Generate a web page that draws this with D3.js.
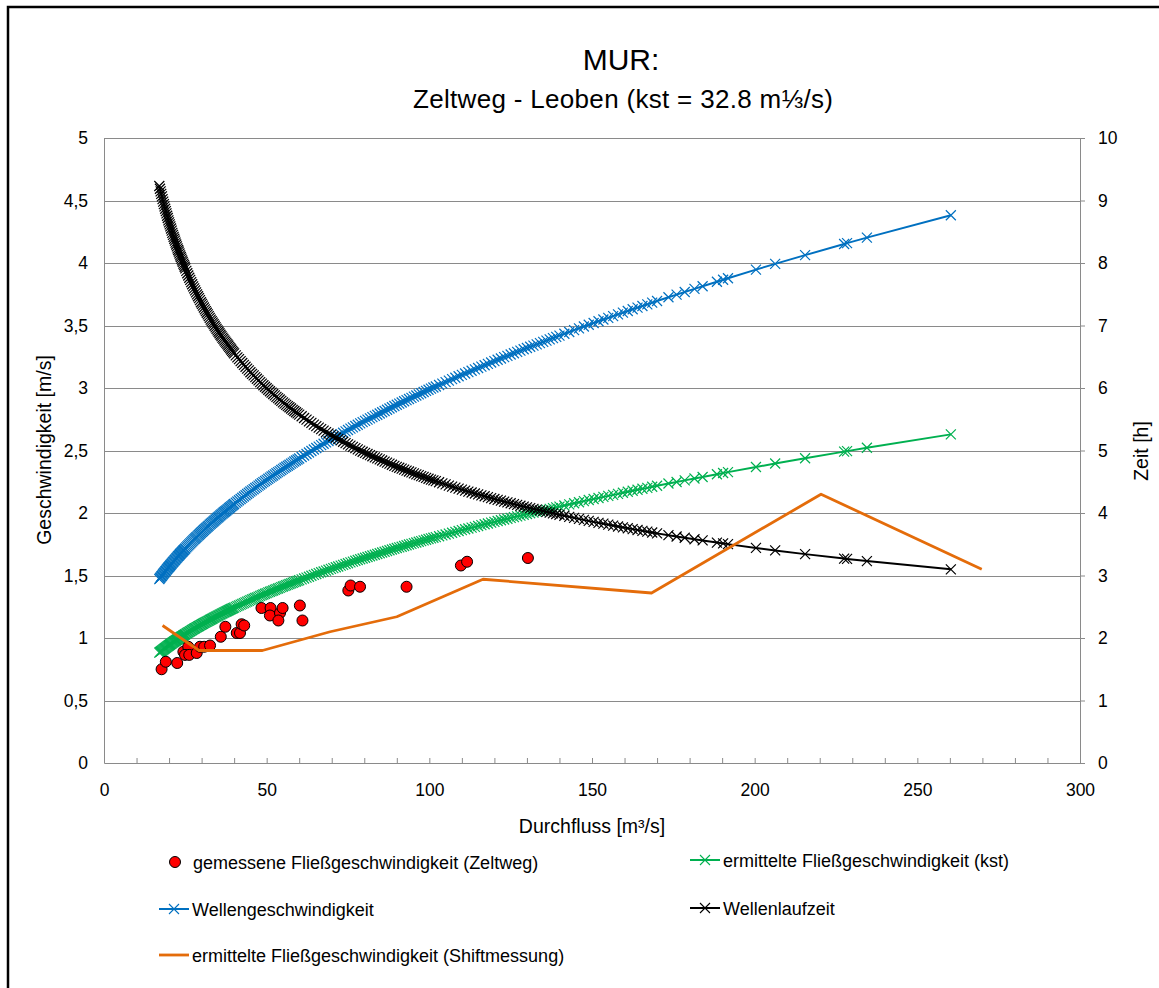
<!DOCTYPE html>
<html>
<head>
<meta charset="utf-8">
<script src="https://cdn.jsdelivr.net/npm/d3@7"></script>
<style>
  html, body { margin: 0; padding: 0; background: #fff; }
  svg { display: block; font-family: "Liberation Sans", Arial, sans-serif; }
</style>
</head>
<body>
<svg id="chart" width="1159" height="988"></svg>
<script>
// Discharge steps used for the computed series [m³/s]
const discharge = [
  17.0,17.2,17.4,17.6,17.8,18.0,18.2,18.4,18.6,18.8,19.0,19.2,19.4,19.6,19.8,20.0,20.2,20.4,20.6,20.8,21.0,21.2,21.4,21.6,21.8,22.0,22.2,22.4,22.6,22.8,23.0,23.2,23.4,23.6,23.8,24.0,24.2,24.4,24.6,24.8,25.0,
  25.3,25.6,25.9,26.2,26.5,26.8,27.1,27.4,27.7,28.0,28.3,28.6,28.9,29.2,29.5,29.8,30.1,30.4,30.7,31.0,31.3,31.6,31.9,32.2,32.5,32.8,33.1,33.4,33.7,34.0,34.3,34.6,34.9,35.2,35.5,35.8,36.1,36.4,36.7,37.0,37.3,37.6,37.9,38.2,38.5,38.8,39.1,39.4,39.7,40.0,
  40.5,41,41.5,42,42.5,43,43.5,44,44.5,45,45.5,46,46.5,47,47.5,48,48.5,49,49.5,50,50.5,51,51.5,52,52.5,53,53.5,54,54.5,55,55.5,56,56.5,57,57.5,58,58.5,59,59.5,60,
  60.75,61.5,62.25,63,63.75,64.5,65.25,66,66.75,67.5,68.25,69,69.75,70.5,71.25,72,72.75,73.5,74.25,75,75.75,76.5,77.25,78,78.75,79.5,80.25,81,81.75,82.5,83.25,84,84.75,85.5,86.25,87,87.75,88.5,89.25,90,90.75,91.5,92.25,93,93.75,94.5,95.25,96,96.75,97.5,98.25,99,99.75,100.5,
  101.25,102,103,104,105,106,107,108,109,110,111,112,113,114,115,116,117,118,119,120,121,122,123,124,125,126,127,128,129,130,131,132,133,134,135,136,137,138,139,140,
  141.5,143,144.5,146,147.5,149,150.5,152,153.5,155,156.5,158,159.5,161,162.5,164,165.5,167,168.5,170,
  173.5,176,178.5,181.5,184,188.4,190.3,191.8,200.4,206.3,215.5,227.5,228.4,234.5,260.3
];

// Wellengeschwindigkeit [m/s]
const waveSpeed = [
  1.471,1.478,1.485,1.492,1.498,1.505,1.512,1.519,1.525,1.532,1.538,1.545,1.551,1.558,1.564,1.570,1.576,1.582,1.588,1.595,1.601,1.607,1.613,1.619,1.625,1.631,1.637,1.643,1.649,1.655,1.660,1.666,1.672,1.678,1.683,1.689,1.694,1.700,1.705,1.711,1.716,
  1.725,1.733,1.741,1.749,1.757,1.765,1.773,1.781,1.789,1.796,1.804,1.811,1.819,1.826,1.834,1.842,1.849,1.856,1.864,1.871,1.878,1.885,1.892,1.899,1.907,1.914,1.921,1.927,1.934,1.941,1.948,1.955,1.962,1.968,1.975,1.982,1.989,1.995,2.002,2.008,2.014,2.020,2.027,2.033,2.040,2.046,2.053,2.059,2.066,2.072,
  2.082,2.092,2.102,2.112,2.122,2.132,2.142,2.152,2.162,2.172,2.181,2.190,2.200,2.209,2.219,2.228,2.238,2.247,2.256,2.265,2.274,2.283,2.292,2.300,2.309,2.318,2.327,2.335,2.344,2.353,2.362,2.370,2.378,2.386,2.395,2.403,2.412,2.420,2.428,2.436,
  2.448,2.460,2.472,2.484,2.496,2.508,2.520,2.531,2.543,2.554,2.565,2.576,2.588,2.599,2.610,2.620,2.631,2.642,2.653,2.664,2.675,2.685,2.696,2.706,2.717,2.727,2.737,2.747,2.757,2.767,2.777,2.786,2.796,2.806,2.816,2.826,2.836,2.846,2.856,2.866,2.875,2.884,2.894,2.903,2.912,2.921,2.931,2.940,2.949,2.958,2.968,2.977,2.986,2.995,
  3.004,3.012,3.024,3.035,3.047,3.059,3.071,3.082,3.094,3.105,3.116,3.127,3.138,3.149,3.160,3.171,3.182,3.193,3.204,3.215,3.226,3.236,3.247,3.257,3.268,3.278,3.289,3.299,3.310,3.320,3.330,3.339,3.349,3.359,3.369,3.379,3.389,3.399,3.409,3.419,
  3.434,3.448,3.463,3.477,3.492,3.506,3.520,3.534,3.548,3.561,3.575,3.589,3.603,3.616,3.630,3.643,3.656,3.669,3.683,3.696,
  3.726,3.747,3.768,3.793,3.814,3.850,3.866,3.878,3.947,3.993,4.063,4.152,4.159,4.203,4.382
];

// ermittelte Fließgeschwindigkeit (kst) [m/s]
const flowSpeedKst = [
  0.883,0.887,0.891,0.895,0.899,0.903,0.907,0.911,0.915,0.919,0.923,0.927,0.931,0.935,0.938,0.942,0.946,0.950,0.953,0.957,0.961,0.965,0.968,0.972,0.975,0.979,0.982,0.986,0.989,0.993,0.996,1.000,1.003,1.007,1.010,1.013,1.016,1.020,1.023,1.027,1.030,
  1.035,1.040,1.045,1.049,1.054,1.059,1.064,1.069,1.074,1.078,1.083,1.087,1.092,1.096,1.101,1.105,1.110,1.114,1.119,1.123,1.127,1.131,1.135,1.139,1.144,1.148,1.152,1.156,1.161,1.165,1.169,1.173,1.177,1.181,1.185,1.189,1.193,1.197,1.201,1.205,1.209,1.212,1.216,1.220,1.224,1.228,1.232,1.235,1.239,1.243,
  1.249,1.255,1.261,1.267,1.273,1.279,1.285,1.291,1.297,1.303,1.309,1.314,1.320,1.325,1.331,1.337,1.343,1.348,1.354,1.359,1.365,1.370,1.375,1.380,1.386,1.391,1.396,1.401,1.407,1.412,1.417,1.422,1.427,1.432,1.437,1.442,1.447,1.452,1.457,1.462,
  1.469,1.476,1.483,1.490,1.498,1.505,1.512,1.519,1.526,1.532,1.539,1.546,1.553,1.559,1.566,1.572,1.579,1.585,1.592,1.598,1.605,1.611,1.618,1.624,1.630,1.636,1.642,1.648,1.654,1.660,1.666,1.672,1.678,1.684,1.690,1.696,1.702,1.708,1.714,1.720,1.725,1.730,1.736,1.742,1.748,1.753,1.759,1.764,1.770,1.775,1.781,1.786,1.792,1.797,
  1.802,1.807,1.814,1.821,1.828,1.835,1.842,1.849,1.856,1.863,1.870,1.876,1.883,1.889,1.896,1.903,1.910,1.916,1.923,1.929,1.936,1.942,1.948,1.954,1.961,1.967,1.973,1.979,1.986,1.992,1.998,2.003,2.009,2.015,2.021,2.027,2.033,2.039,2.045,2.051,
  2.060,2.069,2.078,2.086,2.095,2.104,2.112,2.120,2.129,2.137,2.145,2.153,2.162,2.170,2.178,2.186,2.194,2.201,2.210,2.218,
  2.236,2.248,2.261,2.276,2.288,2.310,2.320,2.327,2.368,2.396,2.438,2.491,2.495,2.522,2.629
];

// Wellenlaufzeit [h] (secondary axis)
const travelTime = [
  9.232,9.188,9.145,9.105,9.065,9.023,8.981,8.943,8.905,8.868,8.830,8.793,8.756,8.720,8.683,8.650,8.617,8.585,8.552,8.517,8.482,8.451,8.419,8.388,8.357,8.327,8.296,8.266,8.235,8.208,8.181,8.152,8.122,8.096,8.069,8.043,8.017,7.991,7.965,7.940,7.914,
  7.875,7.836,7.800,7.764,7.729,7.694,7.660,7.625,7.593,7.561,7.530,7.499,7.468,7.437,7.405,7.372,7.345,7.317,7.288,7.258,7.231,7.204,7.178,7.151,7.123,7.095,7.071,7.047,7.022,6.996,6.971,6.946,6.923,6.900,6.876,6.852,6.830,6.807,6.785,6.763,6.743,6.723,6.702,6.680,6.659,6.637,6.616,6.595,6.575,6.554,
  6.523,6.491,6.461,6.430,6.400,6.370,6.340,6.310,6.281,6.252,6.227,6.201,6.175,6.148,6.122,6.095,6.070,6.044,6.020,5.996,5.972,5.948,5.926,5.904,5.881,5.858,5.837,5.816,5.794,5.771,5.751,5.730,5.711,5.692,5.672,5.651,5.632,5.612,5.594,5.575,
  5.548,5.520,5.494,5.467,5.441,5.415,5.390,5.365,5.341,5.317,5.295,5.272,5.249,5.225,5.204,5.183,5.162,5.140,5.119,5.098,5.078,5.058,5.038,5.018,4.999,4.980,4.962,4.944,4.926,4.908,4.891,4.874,4.857,4.840,4.823,4.805,4.789,4.772,4.755,4.738,4.724,4.709,4.694,4.678,4.664,4.649,4.634,4.619,4.605,4.591,4.577,4.562,4.548,4.534,
  4.522,4.509,4.492,4.474,4.457,4.439,4.423,4.406,4.390,4.374,4.359,4.343,4.328,4.312,4.298,4.283,4.268,4.253,4.239,4.224,4.211,4.197,4.183,4.169,4.156,4.143,4.130,4.116,4.103,4.090,4.079,4.067,4.055,4.043,4.031,4.019,4.007,3.995,3.984,3.972,
  3.956,3.939,3.923,3.906,3.890,3.873,3.858,3.843,3.829,3.814,3.799,3.784,3.770,3.756,3.742,3.728,3.715,3.701,3.688,3.674,
  3.645,3.624,3.604,3.580,3.561,3.527,3.513,3.502,3.441,3.401,3.342,3.271,3.265,3.231,3.099
];

// gemessene Fließgeschwindigkeit (Zeltweg)
const measuredQ = [17.7,19.0,22.5,24.4,25.9,24.9,26.2,28.5,29.5,30.8,32.6,35.9,37.3,40.8,41.8,42.3,43.1,
  48.4,51.2,51.0,54.1,54.9,53.6,60.2,61.0,75.1,75.8,78.7,93.0,109.7,111.6,130.3];
const measuredV = [0.75,0.81,0.80,0.89,0.93,0.865,0.865,0.88,0.93,0.93,0.94,1.01,1.09,1.04,1.04,1.11,1.10,
  1.24,1.24,1.18,1.20,1.24,1.14,1.26,1.14,1.38,1.42,1.41,1.41,1.58,1.61,1.64];

// ermittelte Fließgeschwindigkeit (Shiftmessung)
const shiftQ = [18.0,29.2,48.7,69.5,90.0,116.5,168.3,220.4,269.8];
const shiftV = [1.10,0.90,0.90,1.05,1.17,1.47,1.36,2.15,1.55];

// Axis ticks
const xTicks = [0,50,100,150,200,250,300];
const xMinorTicks = d3.range(0, 301, 10);
const leftTicks = [0,0.5,1,1.5,2,2.5,3,3.5,4,4.5,5];
const rightTicks = [0,1,2,3,4,5,6,7,8,9,10];

const COLORS = { wave: "#0070C0", kst: "#00B050", time: "#000000", meas: "#FF0000", shift: "#E46C0A", grid: "#8a8a8a" };
const FONT = "Liberation Sans, Arial, sans-serif";

const svg = d3.select("#chart");

// outer frame
svg.append("rect").attr("x", 8).attr("y", 7).attr("width", 1300).attr("height", 1200)
  .attr("fill", "none").attr("stroke", "#000").attr("stroke-width", 2.5);

const x = d3.scaleLinear().domain([0, 300]).range([104, 1080]);
const yL = d3.scaleLinear().domain([0, 5]).range([763, 138]);
const yR = d3.scaleLinear().domain([0, 10]).range([763, 138]);

// horizontal grid
svg.append("g").selectAll("line").data(leftTicks.filter(d => d > 0)).join("line")
  .attr("x1", x(0)).attr("x2", x(300))
  .attr("y1", d => Math.round(yL(d)) + 0.5).attr("y2", d => Math.round(yL(d)) + 0.5)
  .attr("stroke", COLORS.grid).attr("stroke-width", 1);

const fmtComma = d => String(d).replace(".", ",");

// left axis
const gL = svg.append("g").attr("transform", `translate(${x(0)},0)`)
  .call(d3.axisLeft(yL).tickValues(leftTicks).tickSize(0).tickPadding(16).tickFormat(fmtComma));
// right axis
const gR = svg.append("g").attr("transform", `translate(${x(300)},0)`)
  .call(d3.axisRight(yR).tickValues(rightTicks).tickSize(5).tickPadding(13).tickFormat(d3.format("d")));
// bottom axis: labels and minor ticks
const gB = svg.append("g").attr("transform", `translate(0,${yL(0)})`)
  .call(d3.axisBottom(x).tickValues(xTicks).tickSize(0).tickPadding(21).tickFormat(d3.format("d")));
const gBm = svg.append("g").attr("transform", `translate(0,${yL(0)})`)
  .call(d3.axisBottom(x).tickValues(xMinorTicks).tickSizeInner(-5).tickSizeOuter(0).tickFormat(""));

[gL, gR, gB, gBm].forEach(g => {
  g.select(".domain").attr("stroke", COLORS.grid).attr("stroke-width", 1);
  g.selectAll(".tick line").attr("stroke", COLORS.grid);
  g.selectAll("text").attr("font-family", FONT).attr("font-size", 17.5).attr("fill", "#000");
});
gBm.select(".domain").remove();

// axis titles
svg.append("text").attr("transform", "translate(51,450) rotate(-90)")
  .attr("text-anchor", "middle").attr("font-size", 19.5).text("Geschwindigkeit [m/s]");
svg.append("text").attr("transform", "translate(1148,451) rotate(-90)")
  .attr("text-anchor", "middle").attr("font-size", 19.5).text("Zeit [h]");
svg.append("text").attr("x", 592).attr("y", 833)
  .attr("text-anchor", "middle").attr("font-size", 19.5).text("Durchfluss [m³/s]");

// titles
svg.append("text").attr("x", 621).attr("y", 70).attr("text-anchor", "middle")
  .attr("font-size", 30).text("MUR:");
svg.append("text").attr("x", 623).attr("y", 108).attr("text-anchor", "middle")
  .attr("font-size", 26).attr("textLength", 420).attr("lengthAdjust", "spacing")
  .text("Zeltweg - Leoben (kst = 32.8 m⅓/s)");

const xMark = "M-5,-5L5,5M-5,5L5,-5";

function markerSeries(values, yScale, color) {
  const pts = discharge.map((q, i) => [x(q), yScale(values[i])]);
  const g = svg.append("g");
  g.append("path").attr("d", d3.line()(pts)).attr("fill", "none")
    .attr("stroke", color).attr("stroke-width", 2);
  g.selectAll("path.m").data(pts).join("path").attr("class", "m")
    .attr("transform", d => `translate(${d[0]},${d[1]})`)
    .attr("d", xMark).attr("stroke", color).attr("stroke-width", 1.2).attr("fill", "none");
}

markerSeries(waveSpeed, yL, COLORS.wave);
markerSeries(flowSpeedKst, yL, COLORS.kst);
markerSeries(travelTime, yR, COLORS.time);

// measured points
svg.append("g").selectAll("circle").data(measuredQ.map((q, i) => [q, measuredV[i]])).join("circle")
  .attr("cx", d => x(d[0])).attr("cy", d => yL(d[1])).attr("r", 5.5)
  .attr("fill", COLORS.meas).attr("stroke", "#000").attr("stroke-width", 1);

// shift measurement line
svg.append("path").attr("d", d3.line()(shiftQ.map((q, i) => [x(q), yL(shiftV[i])])))
  .attr("fill", "none").attr("stroke", COLORS.shift).attr("stroke-width", 2.8)
  .attr("stroke-linejoin", "round");

// legend
const legend = [
  { label: "gemessene Fließgeschwindigkeit (Zeltweg)", type: "dot", color: COLORS.meas, lx: 160, ly: 862 },
  { label: "ermittelte Fließgeschwindigkeit (kst)", type: "xline", color: COLORS.kst, lx: 690, ly: 860 },
  { label: "Wellengeschwindigkeit", type: "xline", color: COLORS.wave, lx: 159, ly: 909 },
  { label: "Wellenlaufzeit", type: "xline", color: COLORS.time, lx: 690, ly: 908 },
  { label: "ermittelte Fließgeschwindigkeit (Shiftmessung)", type: "line", color: COLORS.shift, lx: 159, ly: 955 }
];
const lg = svg.append("g");
legend.forEach(e => {
  if (e.type === "dot") {
    lg.append("circle").attr("cx", e.lx + 15).attr("cy", e.ly).attr("r", 5.5)
      .attr("fill", e.color).attr("stroke", "#000").attr("stroke-width", 1);
  } else {
    lg.append("line").attr("x1", e.lx).attr("x2", e.lx + 30).attr("y1", e.ly).attr("y2", e.ly)
      .attr("stroke", e.color).attr("stroke-width", e.type === "line" ? 2.8 : 2);
    if (e.type === "xline") {
      lg.append("path").attr("transform", `translate(${e.lx + 15},${e.ly})`).attr("d", xMark)
        .attr("stroke", e.color).attr("stroke-width", 1.1).attr("fill", "none");
    }
  }
  lg.append("text").attr("x", e.lx + 33).attr("y", e.ly + 6.5).attr("font-size", 18).text(e.label);
});
</script>
</body>
</html>
